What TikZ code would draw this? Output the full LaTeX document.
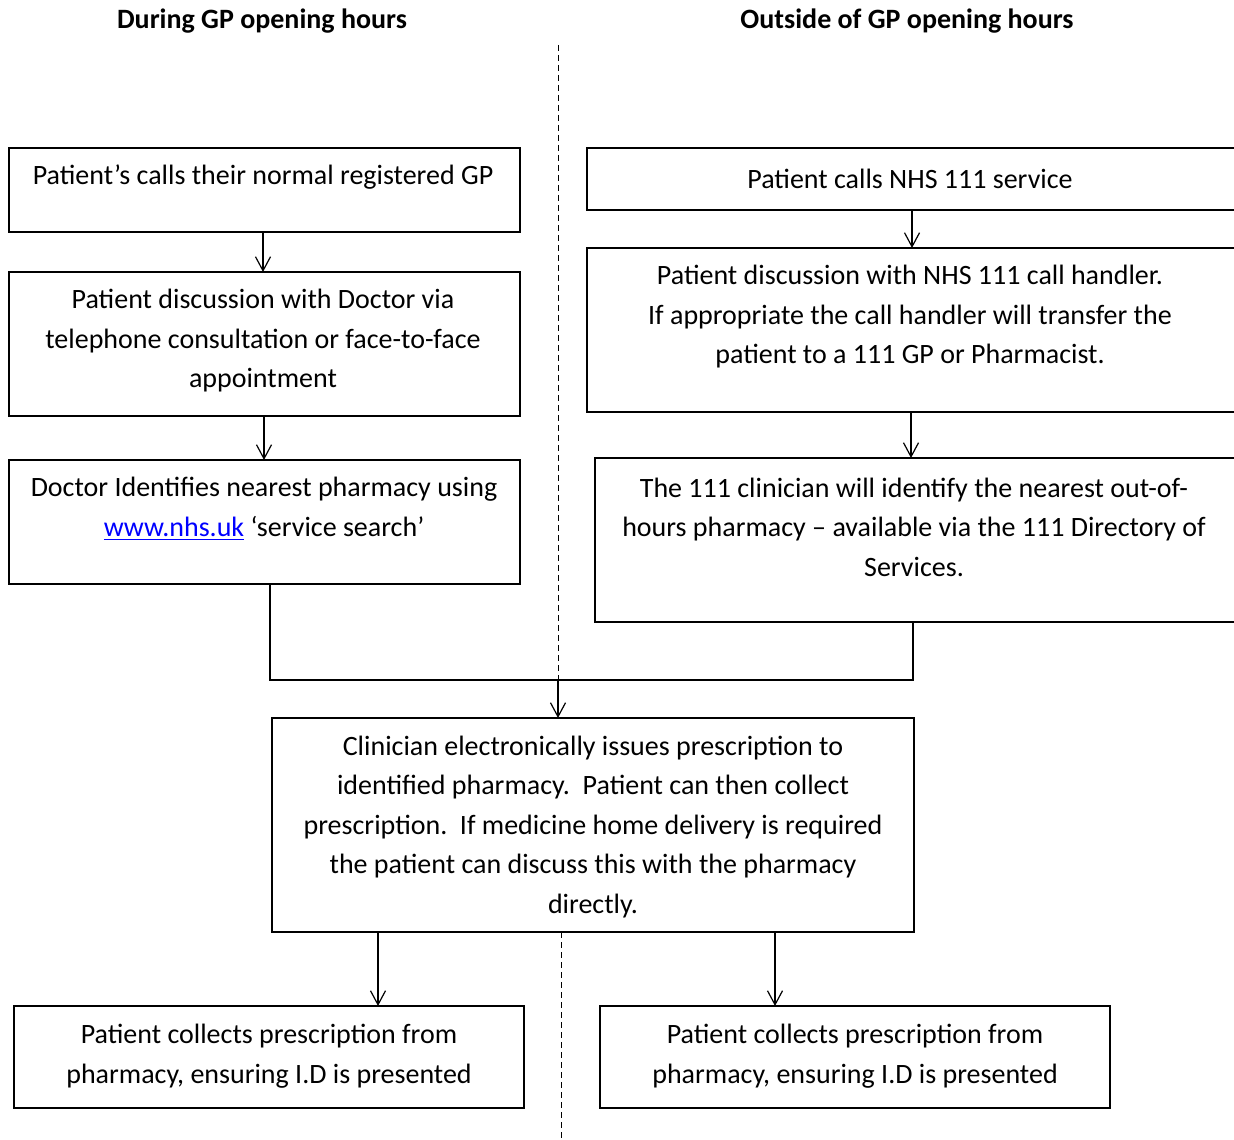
\documentclass[tikz,border=0pt]{standalone}
\usepackage{fontspec}
\setmainfont{Carlito}
\usetikzlibrary{arrows.meta}
\begin{document}
\begin{tikzpicture}[x=0.5pt,y=-0.5pt,
  box/.style={draw, line width=0.8pt, anchor=north west, inner sep=0pt, outer sep=0pt},
  txt/.style={align=center, inner sep=0pt, yshift=-1pt, font=\fontsize{14}{19.75}\selectfont},
  head/.style={inner sep=0pt, yshift=-0.5pt, font=\fontsize{14}{16}\selectfont\bfseries},
  arr/.style={line width=0.6pt, -{Straight Barb[length=7pt,width=7.5pt,line width=0.6pt]}},
  conn/.style={line width=0.6pt},
  divider/.style={line width=0.5pt, dash pattern=on 3pt off 2pt}]
\useasboundingbox (0,0) rectangle (1234,1139);
\clip (0,0) rectangle (1234,1139);
% headings
\node[head] (h1) at (262,20) {During GP opening hours};
\node[head] (h2) at (907,20) {Outside of GP opening hours};
% dividers
\coordinate (d1) at (558,45);
\coordinate (d2) at (558,680);
\coordinate (d3) at (561,932);
\coordinate (d4) at (561,1139);
\draw[divider] (d1) -- (d2);
\draw[divider] (d3) -- (d4);
% left boxes
\node[box, minimum width=255.5pt, minimum height=42pt] (b1) at (9,148) {};
\node[box, minimum width=255.5pt, minimum height=72pt] (b2) at (9,272) {};
\node[box, minimum width=255.5pt, minimum height=62pt] (b3) at (9,460) {};
% right boxes
\node[box, minimum width=331.5pt, minimum height=31pt] (r1) at (587,148) {};
\node[box, minimum width=331.5pt, minimum height=82pt] (r2) at (587,248) {};
\node[box, minimum width=327.5pt, minimum height=82pt] (r3) at (595,458) {};
% central box
\node[box, minimum width=321pt, minimum height=107pt] (c) at (272,718) {};
% bottom boxes
\node[box, minimum width=255pt, minimum height=51pt] (bl) at (14,1006) {};
\node[box, minimum width=255pt, minimum height=51pt] (br) at (600,1006) {};
% texts
\node[txt] (t1) at (263,175) {Patient’s calls their normal registered GP};
\node[txt] (t2) at (263,339) {Patient discussion with Doctor via\\telephone consultation or face-to-face\\appointment};
\node[txt] (t3) at (264,507) {Doctor Identifies nearest pharmacy using\\\textcolor{blue}{\underline{www.nhs.uk}} ‘service search’};
\node[txt] (tr1) at (910,177) {Patient calls NHS 111 service};
\node[txt] (tr2) at (910,315) {Patient discussion with NHS 111 call handler.\\If appropriate the call handler will transfer the\\patient to a 111 GP or Pharmacist.};
\node[txt] (tr3) at (914,525) {The 111 clinician will identify the nearest out-of-\\hours pharmacy – available via the 111 Directory of\\Services.};
\node[txt] (tc) at (593,825) {Clinician electronically issues prescription to\\identified pharmacy.\ \ Patient can then collect\\prescription.\ \ If medicine home delivery is required\\the patient can discuss this with the pharmacy\\directly.};
\node[txt] (tbl) at (269,1054) {Patient collects prescription from\\pharmacy, ensuring I.D is presented};
\node[txt] (tbr) at (855,1054) {Patient collects prescription from\\pharmacy, ensuring I.D is presented};
% connectors
\coordinate (xl1) at (263,0);
\coordinate (xl2) at (264,0);
\coordinate (xr1) at (912,0);
\coordinate (xr2) at (911,0);
\coordinate (xm) at (270,0);
\coordinate (xn) at (913,0);
\coordinate (xb1) at (378,0);
\coordinate (xb2) at (775,0);
\coordinate (jl) at (270,680);
\coordinate (jr) at (913,680);
\draw[arr] (b1.south -| xl1) -- (b2.north -| xl1);
\draw[arr] (b2.south -| xl2) -- (b3.north -| xl2);
\draw[arr] (r1.south -| xr1) -- (r2.north -| xr1);
\draw[arr] (r2.south -| xr2) -- (r3.north -| xr2);
\draw[conn] (b3.south -| xm) -- (jl) -- (jr) -- (r3.south -| xn);
\draw[arr] (d2) -- (c.north -| d2);
\draw[arr] (c.south -| xb1) -- (bl.north -| xb1);
\draw[arr] (c.south -| xb2) -- (br.north -| xb2);
\end{tikzpicture}
\end{document}
